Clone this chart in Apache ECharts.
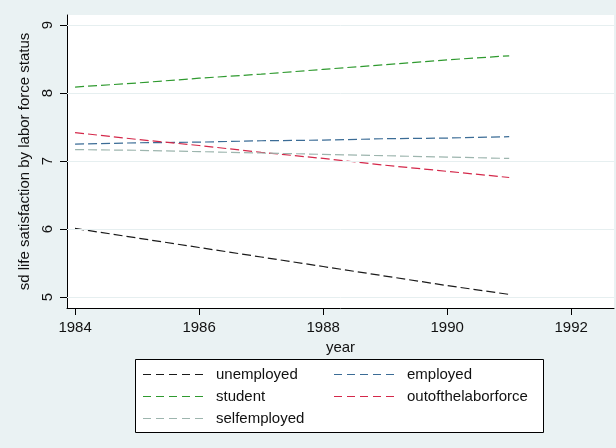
<!DOCTYPE html>
<html>
<head>
<meta charset="utf-8">
<script src="https://cdn.jsdelivr.net/npm/echarts@6/dist/echarts.min.js"></script>
<style>
html,body{margin:0;padding:0;background:#eaf2f3;}
#c{width:616px;height:448px;}
</style>
</head>
<body>
<div id="c"></div>
<script>
const years = [1984, 1985, 1986, 1987, 1988, 1989, 1990, 1991];
const unemployed = [6.01, 5.87, 5.73, 5.59, 5.45, 5.31, 5.17, 5.04];
const employed = [7.25, 7.27, 7.28, 7.30, 7.31, 7.33, 7.34, 7.36];
const student = [8.09, 8.15, 8.22, 8.28, 8.35, 8.42, 8.49, 8.55];
const outofthelaborforce = [7.42, 7.32, 7.23, 7.13, 7.04, 6.94, 6.85, 6.76];
const selfemployed = [7.17, 7.16, 7.14, 7.12, 7.10, 7.08, 7.06, 7.04];
const xTicks = [1984, 1986, 1988, 1990, 1992];
const yTicks = [5, 6, 7, 8, 9];

const font = '"Liberation Sans", Arial, sans-serif';
const names = ['unemployed','employed','student','outofthelaborforce','selfemployed'];
const vals = [unemployed, employed, student, outofthelaborforce, selfemployed];
const colors = ['#1a1a1a', '#3b6c96', '#2f9a2f', '#d4284a', '#9db5ae'];

const dashIcon = 'path://M0,0h8v1.2h-8z M13,0h8v1.2h-8z M26,0h8v1.2h-8z M39,0h8v1.2h-8z M52,0h8v1.2h-8z';

const series = names.map((n, i) => ({
  name: n,
  type: 'line',
  data: years.map((y, j) => [y, vals[i][j]]),
  showSymbol: false,
  symbol: 'none',
  animation: false,
  lineStyle: { color: colors[i], width: 1.2, type: [9, 4] },
  itemStyle: { color: colors[i] },
  z: 3
}));
series.push({
  type: 'line', data: [], silent: true,
  markLine: {
    silent: true, symbol: 'none', label: { show: false },
    lineStyle: { color: '#e6eff0', width: 1, type: 'solid' },
    data: yTicks.map(v => ({ yAxis: v }))
  },
  z: 1
});

const legendCommon = {
  orient: 'vertical', top: 367, padding: 0,
  icon: dashIcon,
  itemWidth: 60, itemHeight: 1.2, itemGap: 7,
  textStyle: { color: '#111', fontFamily: font, fontSize: 15, padding: [0, 0, 0, 8] }
};

const chart = echarts.init(document.getElementById('c'));
chart.setOption({
  backgroundColor: '#eaf2f3',
  animation: false,
  grid: { left: 67, top: 15, right: 2, bottom: 140, show: true, backgroundColor: '#ffffff', borderWidth: 0 },
  xAxis: {
    type: 'value', min: 1983.87, max: 1992.69,
    name: 'year', nameLocation: 'middle', nameGap: 22,
    nameTextStyle: { color: '#111', fontFamily: font, fontSize: 15 },
    axisLine: { show: true, lineStyle: { color: '#000', width: 1 } },
    axisTick: { show: true, customValues: xTicks, length: 7, lineStyle: { color: '#000' } },
    axisLabel: { customValues: xTicks, formatter: v => String(v), color: '#111', fontFamily: font, fontSize: 15, margin: 12 },
    splitLine: { show: false }
  },
  yAxis: {
    type: 'value', min: 4.84, max: 9.15,
    name: 'sd life satisfaction by labor force status', nameLocation: 'middle', nameGap: 30, nameRotate: 90,
    nameTextStyle: { color: '#111', fontFamily: font, fontSize: 15 },
    axisLine: { show: true, lineStyle: { color: '#000', width: 1 } },
    axisTick: { show: true, customValues: yTicks, length: 7, lineStyle: { color: '#000' } },
    axisLabel: { customValues: yTicks, formatter: v => String(v), rotate: 90, color: '#111', fontFamily: font, fontSize: 15, margin: 12 },
    splitLine: { show: false }
  },
  graphic: [{
    type: 'rect', left: 135, top: 359, z: 0,
    shape: { width: 408, height: 73 },
    style: { fill: '#ffffff', stroke: '#000', lineWidth: 1 }
  }],
  legend: [
    Object.assign({ data: ['unemployed', 'student', 'selfemployed'], left: 143 }, legendCommon),
    Object.assign({ data: ['employed', 'outofthelaborforce'], left: 334 }, legendCommon)
  ],
  series: series
});
</script>
</body>
</html>
